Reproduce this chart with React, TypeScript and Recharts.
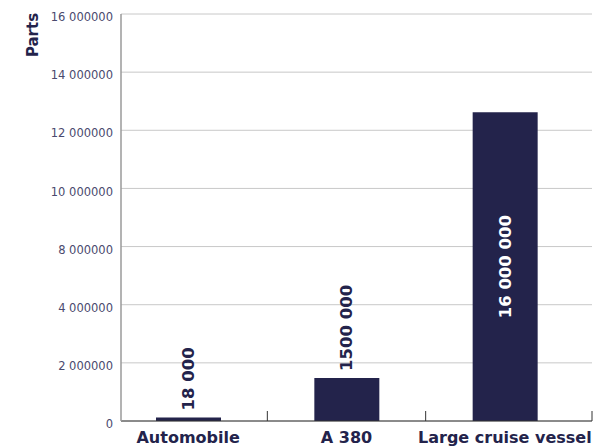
import React from 'react';
import { BarChart, Bar, XAxis, YAxis, CartesianGrid, LabelList } from 'recharts';

const categories = ['Automobile', 'A 380', 'Large cruise vessel'];
// bar heights, in axis steps (one step per tick label)
const barValues = [0.06, 0.74, 5.31];
const barLabels = ['18 000', '1500 000', '16 000 000'];
const yTickValues = [0, 1, 2, 3, 4, 5, 6, 7];
const yTickLabels = ['0', '2 000000', '4 000000', '8 000000', '10 000000', '12 000000', '14 000000', '16 000000'];

const data = categories.map((name, i) => ({ name, value: barValues[i], label: barLabels[i] }));

const NAVY = '#23234b';
const FONT = '"DejaVu Sans", sans-serif';
const PAD_RIGHT = 8;

const XTick = (props: any) => {
  const { x, y, payload, index, visibleTicksCount } = props;
  const off = payload && payload.offset ? payload.offset : 0;
  const isLast = index === (visibleTicksCount ?? categories.length) - 1;
  const tx = x + off + (isLast ? PAD_RIGHT : 0);
  return (
    <g>
      <line x1={tx} x2={tx} y1={y - 11} y2={y - 21} stroke="#333" strokeWidth={1} />
      <text x={x} y={y} dy="0.71em" textAnchor="middle" fill={NAVY} fontFamily={FONT} fontWeight="bold" fontSize={16}>
        {payload.value}
      </text>
    </g>
  );
};

const BarLabel = (props: any) => {
  const { x, y, width, height, index } = props;
  const cx = x + width / 2;
  const text = barLabels[index];
  if (height > 100) {
    const cy = y + height / 2;
    return (
      <text x={cx} y={cy} transform={`rotate(-90, ${cx}, ${cy})`} textAnchor="middle" dominantBaseline="central" fill="#ffffff" fontFamily={FONT} fontWeight="bold" fontSize={16.5}>
        {text}
      </text>
    );
  }
  const sy = y - 7;
  return (
    <text x={cx} y={sy} transform={`rotate(-90, ${cx}, ${sy})`} textAnchor="start" dominantBaseline="central" fill={NAVY} fontFamily={FONT} fontWeight="bold" fontSize={16.5}>
      {text}
    </text>
  );
};

const PartsLabel = () => (
  <text x={33} y={35} transform="rotate(-90, 33, 35)" textAnchor="middle" dominantBaseline="central" fill={NAVY} fontFamily={FONT} fontWeight="bold" fontSize={15}>
    Parts
  </text>
);

export default function App() {
  return (
    <div style={{ position: 'absolute', left: 0, top: 0, width: 614, height: 447, background: '#fff' }}>
      <BarChart width={614} height={447} data={data} margin={{ top: 14, right: 22, bottom: 0, left: 0 }}>
        <CartesianGrid horizontal vertical={false} stroke="#c8c8c8" strokeWidth={1} />
        <XAxis
          dataKey="name"
          interval={0}
          height={26}
          padding={{ left: -12, right: PAD_RIGHT }}
          axisLine={{ stroke: '#333', strokeWidth: 1 }}
          tickLine={false}
          tickSize={0}
          tickMargin={11}
          tick={<XTick />}
        />
        <YAxis
          type="number"
          domain={[0, 7]}
          ticks={yTickValues}
          interval={0}
          width={121}
          tickFormatter={(v: number) => yTickLabels[v]}
          axisLine={{ stroke: '#9a9a9a', strokeWidth: 1.5 }}
          tickLine={false}
          tickSize={0}
          tickMargin={8}
          tick={{ fill: '#4a4a6e', fontSize: 11.5, fontFamily: FONT, dy: 3 }}
          label={<PartsLabel />}
        />
        <Bar dataKey="value" fill={NAVY} barSize={65} isAnimationActive={false}>
          <LabelList dataKey="value" content={<BarLabel />} />
        </Bar>
      </BarChart>
    </div>
  );
}
